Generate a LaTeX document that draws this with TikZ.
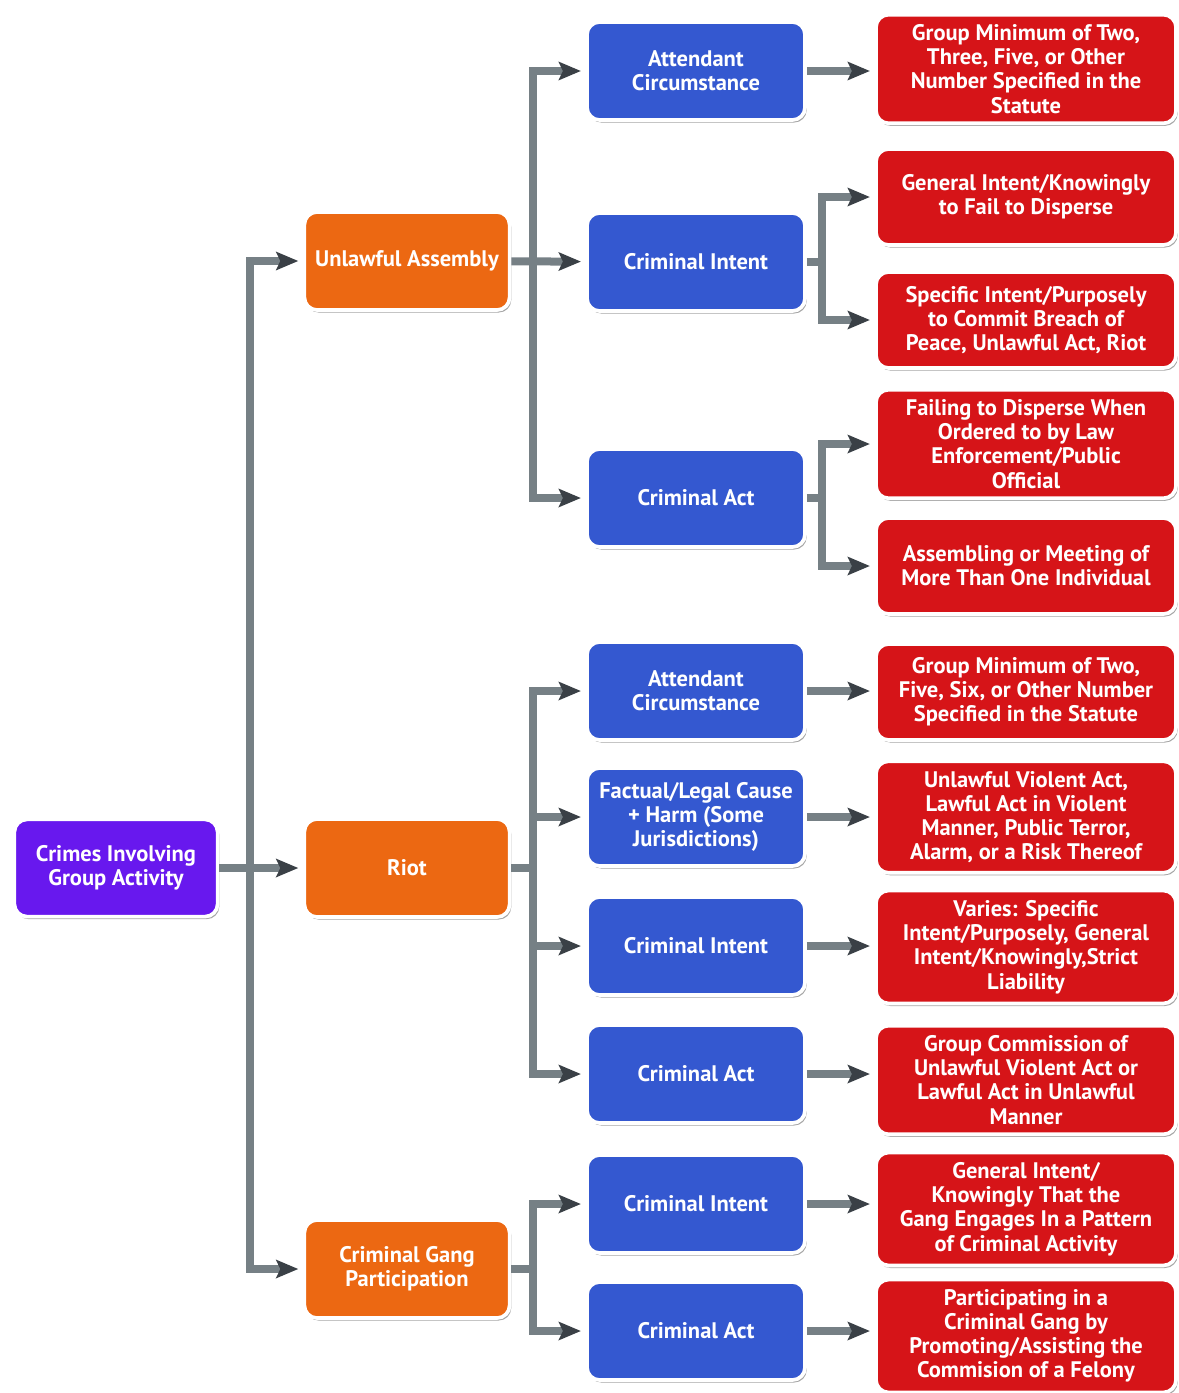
\documentclass[tikz,border=0pt]{standalone}
\usepackage{fontspec}
\setmainfont{PT Sans}
\usetikzlibrary{arrows.meta,shadows}

\definecolor{lineGray}{RGB}{118,128,133}
\definecolor{tipGray}{RGB}{58,64,70}
\definecolor{rootPurple}{RGB}{104,24,238}
\definecolor{groupOrange}{RGB}{236,104,18}
\definecolor{elemBlue}{RGB}{52,88,208}
\definecolor{detailRed}{RGB}{214,20,24}

\begin{document}
\begin{tikzpicture}[x=0.025cm, y=-0.025cm,
    box/.style={rounded corners=9pt, draw=white, line width=2.6pt, text=white,
        align=center, inner xsep=4pt, inner ysep=7pt,
        font=\fontsize{16}{17.2}\selectfont\bfseries,
        drop shadow={shadow xshift=1.2pt, shadow yshift=-1.8pt, opacity=0.5, fill=black!70}},
    rootbox/.style={box, fill=rootPurple, minimum width=5.08cm, minimum height=2.43cm},
    groupbox/.style={box, fill=groupOrange, minimum width=5.13cm, minimum height=2.45cm},
    elembox/.style={box, fill=elemBlue, minimum width=5.45cm, minimum height=2.45cm},
    detailbox/.style={box, fill=detailRed, minimum width=7.5cm, minimum height=2.4cm},
    conn/.style={draw=lineGray, line width=0.2cm,
        -{Stealth[length=0.55cm, width=0.45cm, inset=0.1cm, color=tipGray]}, shorten >=3pt},
    link/.style={draw=lineGray, line width=0.2cm}]

    \useasboundingbox (0,0) rectangle (1178,1393);

    % left side
    \node[rootbox] (root) at (116,868) {Crimes Involving\\Group Activity};
    \node[groupbox] (ua) at (407,261) {Unlawful Assembly};
    \node[groupbox] (riot) at (407,868) {Riot};
    \node[groupbox] (cgp) at (407,1269) {Criminal Gang\\Participation};

    % elements
    \node[elembox] (ac1) at (696,71) {Attendant\\Circumstance};
    \node[elembox] (ci1) at (696,262) {Criminal Intent};
    \node[elembox] (ca1) at (696,498) {Criminal Act};
    \node[elembox] (ac2) at (696,691) {Attendant\\Circumstance};
    \node[elembox] (fl) at (696,817) {Factual/Legal Cause\\+ Harm (Some\\Jurisdictions)};
    \node[elembox] (ci2) at (696,946) {Criminal Intent};
    \node[elembox] (ca2) at (696,1074) {Criminal Act};
    \node[elembox] (ci3) at (696,1204) {Criminal Intent};
    \node[elembox] (ca3) at (696,1331) {Criminal Act};

    % details
    \node[detailbox] (r1) at (1026,69) {Group Minimum of Two,\\Three, Five, or Other\\Number Specified in the\\Statute};
    \node[detailbox] (r2) at (1026,197) {General Intent/Knowingly\\to Fail to Disperse};
    \node[detailbox] (r3) at (1026,320) {Specific Intent/Purposely\\to Commit Breach of\\Peace, Unlawful Act, Riot};
    \node[detailbox] (r4) at (1026,444) {Failing to Disperse When\\Ordered to by Law\\Enforcement/Public\\Official};
    \node[detailbox] (r5) at (1026,566) {Assembling or Meeting of\\More Than One Individual};
    \node[detailbox] (r6) at (1026,692) {Group Minimum of Two,\\Five, Six, or Other Number\\Specified in the Statute};
    \node[detailbox] (r7) at (1026,817) {Unlawful Violent Act,\\Lawful Act in Violent\\Manner, Public Terror,\\Alarm, or a Risk Thereof};
    \node[detailbox] (r8) at (1026,947) {Varies: Specific\\Intent/Purposely, General\\Intent/Knowingly,Strict\\Liability};
    \node[detailbox] (r9) at (1026,1080) {Group Commission of\\Unlawful Violent Act or\\Lawful Act in Unlawful\\Manner};
    \node[detailbox] (r10) at (1026,1209) {General Intent/\\Knowingly That the\\Gang Engages In a Pattern\\of Criminal Activity};
    \node[detailbox] (r11) at (1026,1336) {Participating in a\\Criminal Gang by\\Promoting/Assisting the\\Commision of a Felony};

    % junctions
    \coordinate (jRoot) at (250,868);
    \coordinate (jUA) at (533,261);
    \coordinate (jRiot) at (533,868);
    \coordinate (jGang) at (533,1269);
    \coordinate (jIntent) at (822,262);
    \coordinate (jAct) at (822,498);

    \draw[conn] (root) -- (riot);
    \draw[conn] (jRoot) |- (ua.west);
    \draw[conn] (jRoot) |- (cgp.west);

    \draw[conn] (ua) -- (ci1);
    \draw[conn] (jUA) |- (ac1.west);
    \draw[conn] (jUA) |- (ca1.west);

    \draw[link] (riot.east) -- (jRiot);
    \draw[conn] (jRiot) |- (ac2.west);
    \draw[conn] (jRiot) |- (fl.west);
    \draw[conn] (jRiot) |- (ci2.west);
    \draw[conn] (jRiot) |- (ca2.west);

    \draw[link] (cgp.east) -- (jGang);
    \draw[conn] (jGang) |- (ci3.west);
    \draw[conn] (jGang) |- (ca3.west);

    \draw[conn] (ac1.east) -- (ac1.east -| r1.west);
    \draw[link] (ci1.east) -- (jIntent);
    \draw[conn] (jIntent) |- (r2.west);
    \draw[conn] (jIntent) |- (r3.west);
    \draw[link] (ca1.east) -- (jAct);
    \draw[conn] (jAct) |- (r4.west);
    \draw[conn] (jAct) |- (r5.west);
    \draw[conn] (ac2.east) -- (ac2.east -| r6.west);
    \draw[conn] (fl.east) -- (fl.east -| r7.west);
    \draw[conn] (ci2.east) -- (ci2.east -| r8.west);
    \draw[conn] (ca2.east) -- (ca2.east -| r9.west);
    \draw[conn] (ci3.east) -- (ci3.east -| r10.west);
    \draw[conn] (ca3.east) -- (ca3.east -| r11.west);
\end{tikzpicture}
\end{document}
